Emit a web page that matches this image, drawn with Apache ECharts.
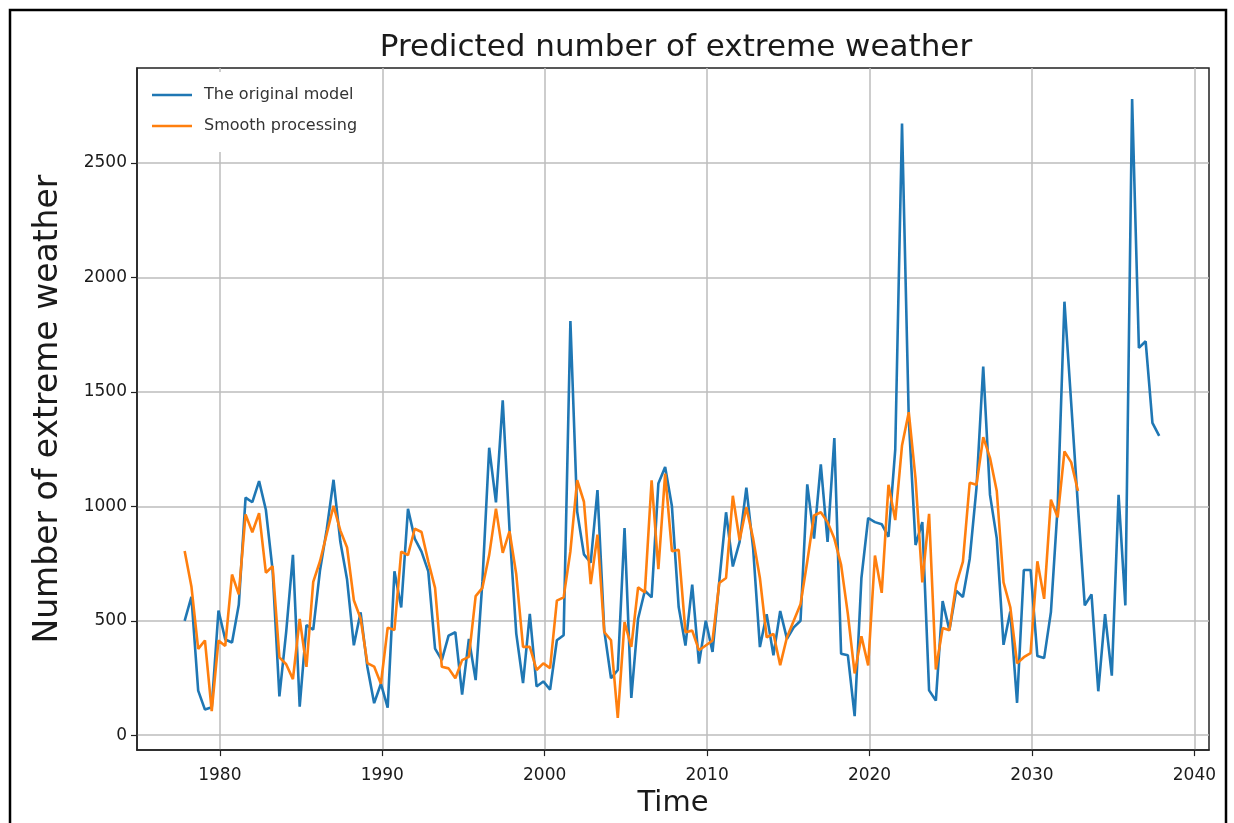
<!DOCTYPE html>
<html>
<head>
<meta charset="utf-8">
<script src="https://cdn.jsdelivr.net/npm/echarts@6/dist/echarts.min.js"></script>
<style>
  html, body { margin: 0; padding: 0; background: #fff; }
  #chart { width: 1234px; height: 823px; }
</style>
</head>
<body>
<div id="chart"></div>
<script>
// Sampling: one point every 5 months starting Nov 1977
const startYear = 1977 + 10 / 12;
const stepYears = 5 / 12;

const originalModel = [
  500, 605, 195, 112, 122, 545, 418, 405, 570, 1038,
  1018, 1110, 985, 720, 170, 450, 788, 125, 481, 461,
  720, 900, 1116, 846, 680, 393, 537, 298, 140, 225,
  120, 716, 558, 989, 859, 802, 716, 378, 328, 435,
  450, 177, 421, 241, 672, 1256, 1017, 1463, 900, 444,
  228, 530, 213, 235, 199, 415, 437, 1810, 977, 790,
  754, 1071, 458, 249, 285, 905, 163, 509, 631, 602,
  1100, 1172, 1000, 560, 392, 658, 313, 500, 364, 672,
  974, 737, 845, 1082, 816, 385, 529, 349, 543, 421,
  471, 500, 1096, 859, 1183, 845, 1298, 356, 349, 83,
  686, 949, 931, 922, 867, 1248, 2672, 1380, 831, 931,
  196, 151, 586, 459, 631, 604, 770, 1080, 1611, 1050,
  860, 395, 541, 141, 722, 722, 346, 337, 538, 1000,
  1894, 1450, 1000, 567, 615, 192, 529, 260, 1050, 567,
  2779, 1692, 1721, 1365, 1308
];

const smoothProcessing = [
  805, 650, 377, 414, 105, 414, 390, 702, 615, 965,
  887, 970, 710, 738, 340, 310, 245, 508, 299, 670,
  760, 880, 1002, 895, 820, 590, 510, 315, 300, 225,
  470, 460, 802, 787, 902, 888, 759, 644, 299, 292,
  249, 328, 342, 608, 644, 787, 990, 797, 891, 703,
  386, 386, 285, 314, 293, 588, 602, 804, 1114, 1020,
  660, 876, 451, 415, 76, 494, 386, 646, 624, 1114,
  725, 1143, 804, 810, 450, 457, 371, 392, 414, 665,
  687, 1046, 852, 996, 859, 687, 428, 443, 306, 428,
  500, 572, 759, 960, 974, 931, 859, 744, 529, 270,
  432, 305, 785, 622, 1094, 940, 1266, 1411, 1120, 668,
  967, 287, 468, 459, 659, 758, 1103, 1094, 1302, 1212,
  1067, 668, 559, 314, 341, 359, 760, 596, 1029, 952,
  1240, 1192, 1067
];

const seriesNames = ['The original model', 'Smooth processing'];
const titleText = 'Predicted number of extreme weather';
const xName = 'Time';
const yName = 'Number of extreme weather';

const toPairs = arr => arr.map((v, i) => [startYear + i * stepYears, v]);

const FONT = "'DejaVu Sans', sans-serif";
const chart = echarts.init(document.getElementById('chart'), null, { renderer: 'canvas' });

const isMultiple = (v, m) => Math.abs(v - Math.round(v / m) * m) < 1e-6;

chart.setOption({
  backgroundColor: '#fff',
  animation: false,
  graphic: [{
    type: 'rect',
    shape: { x: 10, y: 10, width: 1216, height: 840 },
    style: { fill: 'none', stroke: '#000', lineWidth: 2.5 },
    silent: true
  }],
  title: {
    text: titleText,
    left: 671,
    textAlign: 'center',
    top: 27,
    textStyle: { fontFamily: FONT, fontSize: 31, fontWeight: 'normal', color: '#1a1a1a' }
  },
  legend: {
    orient: 'vertical',
    left: 143,
    top: 72,
    icon: 'rect',
    itemWidth: 40,
    itemHeight: 2.5,
    itemGap: 15,
    padding: [15, 10, 18, 9],
    backgroundColor: '#fff',
    textStyle: { fontFamily: FONT, fontSize: 16, color: '#333', padding: [0, 0, 0, 7] },
    data: seriesNames
  },
  grid: {
    left: 137, right: 25, top: 68, bottom: 64,
    show: true, borderColor: '#222', borderWidth: 1.5, backgroundColor: 'transparent'
  },
  xAxis: {
    type: 'value',
    min: 1974.9,
    max: 2040.9,
    splitNumber: 6,
    name: xName,
    nameLocation: 'middle',
    nameGap: 35,
    nameTextStyle: { fontFamily: FONT, fontSize: 29, color: '#1a1a1a' },
    axisLine: { show: true, onZero: false, lineStyle: { color: '#222', width: 1.5 } },
    axisTick: { show: true, length: 6, lineStyle: { color: '#222', width: 1.2 } },
    axisLabel: {
      fontFamily: FONT, fontSize: 17, color: '#1a1a1a', margin: 17,
      showMinLabel: false, showMaxLabel: false,
      formatter: v => isMultiple(v, 10) ? String(Math.round(v)) : ''
    },
    splitLine: { show: true, showMinLine: false, showMaxLine: false, lineStyle: { color: '#bcbcbc', width: 1.5 } }
  },
  yAxis: {
    type: 'value',
    min: -65,
    max: 2915,
    splitNumber: 6,
    name: yName,
    nameLocation: 'middle',
    nameGap: 72,
    nameRotate: 90,
    nameTextStyle: { fontFamily: FONT, fontSize: 33, color: '#1a1a1a' },
    axisLine: { show: true, onZero: false, lineStyle: { color: '#222', width: 1.5 } },
    axisTick: { show: true, length: 6, lineStyle: { color: '#222', width: 1.2 } },
    axisLabel: {
      fontFamily: FONT, fontSize: 17, color: '#1a1a1a', margin: 10,
      showMinLabel: false, showMaxLabel: false,
      formatter: v => isMultiple(v, 500) ? String(Math.round(v)) : ''
    },
    splitLine: { show: true, showMinLine: false, showMaxLine: false, lineStyle: { color: '#bcbcbc', width: 1.5 } }
  },
  series: [
    {
      name: seriesNames[0],
      type: 'line',
      data: toPairs(originalModel),
      symbol: 'none',
      lineStyle: { color: '#1f77b4', width: 2.6 },
      itemStyle: { color: '#1f77b4' },
      z: 2
    },
    {
      name: seriesNames[1],
      type: 'line',
      data: toPairs(smoothProcessing),
      symbol: 'none',
      lineStyle: { color: '#ff7f0e', width: 2.6 },
      itemStyle: { color: '#ff7f0e' },
      z: 3
    }
  ]
});
</script>
</body>
</html>
